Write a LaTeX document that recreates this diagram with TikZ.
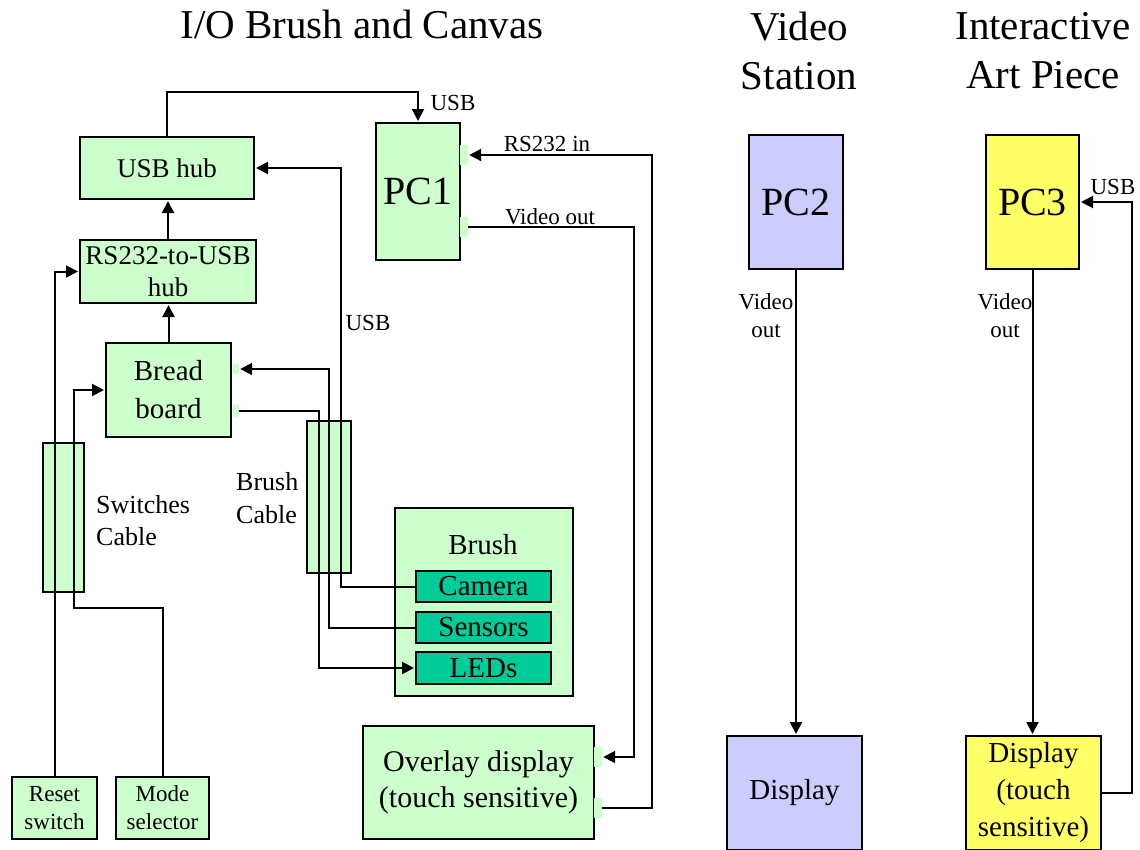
\documentclass[tikz,border=0pt]{standalone}
\usepackage{fontspec}
\setmainfont{Liberation Serif}
\usetikzlibrary{arrows.meta,calc}
\definecolor{lgreen}{HTML}{CCFFCC}
\definecolor{teal}{HTML}{00CC99}
\definecolor{lav}{HTML}{CCCCFF}
\definecolor{yel}{HTML}{FFFF66}
\newcommand{\fs}[2]{\fontsize{#1}{#2}\selectfont}
\tikzset{
  box/.style={draw, line width=2pt, fill=lgreen, inner sep=0pt, align=center, font=\fs{27}{36}},
  port/.style={fill=lgreen, draw=none, inner sep=0pt},
  cablebox/.style={draw, line width=2pt, fill=lgreen, inner sep=0pt},
  lbl/.style={inner sep=0pt, align=center, font=\fs{23}{28}},
  ttl/.style={inner sep=0pt, align=center, font=\fs{41}{49}},
  arr/.style={line width=2pt, -{Triangle[length=12pt,width=12pt]}, shorten >=1pt},
  wire/.style={line width=2pt}
}
\begin{document}
\begin{tikzpicture}[x=1pt,y=-1pt]
\useasboundingbox (0,0) rectangle (1140,849);
\clip (0,0) rectangle (1140,849);
\fill[white] (0,0) rectangle (1140,849);
% titles
\node[ttl] (t1) at (362,24) {I/O Brush and Canvas};
\node[ttl] (t2) at (799,51) {Video\\Station};
\node[ttl] (t3) at (1043,51) {Interactive\\Art Piece};
% boxes
\node[box, minimum width=174, minimum height=62] (usbhub) at (167,168) {USB hub};
\node[box, minimum width=176, minimum height=63, font=\fs{27}{32}] (rs232) at (168,271.5) {RS232-to-USB\\hub};
\node[box, minimum width=125, minimum height=94, font=\fs{29}{38}] (bread) at (168.5,390) {Bread\\board};
\node[box, minimum width=84, minimum height=137, font=\fs{40}{48}] (pc1) at (418,191.5) {PC1};
\node[port, minimum width=8, minimum height=20] (pc1p1) at (464,155) {};
\node[port, minimum width=8, minimum height=20] (pc1p2) at (464,227) {};
\node[port, minimum width=6, minimum height=10] (bp1) at (236,369) {};
\node[port, minimum width=6, minimum height=12] (bp2) at (236,411) {};
\node[cablebox, minimum width=41, minimum height=149] (swcable) at (63.5,517.5) {};
\node[cablebox, minimum width=44, minimum height=152] (brcable) at (329,497) {};
\node[box, minimum width=85, minimum height=62, font=\fs{23}{28}] (reset) at (54.5,808) {Reset\\switch};
\node[box, minimum width=93, minimum height=62, font=\fs{23}{28}] (mode) at (162.5,808) {Mode\\selector};
\node[box, minimum width=178, minimum height=188] (brush) at (484,602) {};
\node[inner sep=0pt, font=\fs{29}{36}] (brushlbl) at (483,545) {Brush};
\node[box, fill=teal, minimum width=135, minimum height=31, font=\fs{29}{36}] (camera) at (483.5,586.5) {Camera};
\node[box, fill=teal, minimum width=135, minimum height=31, font=\fs{29}{36}] (sensors) at (483.5,627.5) {Sensors};
\node[box, fill=teal, minimum width=135, minimum height=32, font=\fs{29}{36}] (leds) at (483.5,668) {LEDs};
\node[box, minimum width=231, minimum height=113, font=\fs{30}{36}] (overlay) at (478.5,782.5) {Overlay display\\(touch sensitive)};
\node[port, minimum width=8, minimum height=20] (op1) at (598,757) {};
\node[port, minimum width=8, minimum height=20] (op2) at (598,808) {};
\node[box, fill=lav, minimum width=94, minimum height=134, font=\fs{40}{48}] (pc2) at (796,202) {PC2};
\node[box, fill=yel, minimum width=93, minimum height=134, font=\fs{40}{48}] (pc3) at (1032.5,202) {PC3};
\node[box, fill=lav, minimum width=135, minimum height=114, font=\fs{29}{37}] (disp2) at (794.5,793) {Display};
\node[box, fill=yel, minimum width=135, minimum height=114, font=\fs{29}{37}] (disp3) at (1033.5,793) {Display\\(touch\\sensitive)};
% labels
\node[lbl] (lusb1) at (453,103) {USB};
\node[lbl] (lrs) at (547,144) {RS232 in};
\node[lbl] (lvid) at (550,217) {Video out};
\node[lbl] (lusb2) at (368,323) {USB};
\node[lbl] (lusb3) at (1113,187) {USB};
\node[lbl] (lv2) at (766,316) {Video\\out};
\node[lbl] (lv3) at (1005,316) {Video\\out};
\node[inner sep=0pt, align=left, anchor=west, font=\fs{26}{32}] (lsw) at (96,521) {Switches\\Cable};
\node[inner sep=0pt, align=left, anchor=west, font=\fs{26}{33}] (lbr) at (236,498.5) {Brush\\Cable};
% coordinates
\coordinate (c1) at (167,92);
\coordinate (m1) at (162.5,608);
\coordinate (m2) at (74,608);
\coordinate (cu) at (341,168);
\coordinate (sb) at (329,369);
\coordinate (lb) at (319,411);
\coordinate (r1) at (652,808);
\coordinate (v1) at (634,227);
\coordinate (y1) at (1132,793);
% connectors
\draw[arr] (usbhub.north) -- (c1) -| (pc1.north);
\draw[arr] (rs232.north) -- (rs232.north |- usbhub.south);
\draw[arr] (bread.north) -- (bread.north |- rs232.south);
\draw[arr] (reset.north) |- (rs232.west);
\draw[arr] (mode.north) -- (m1) -- (m2) |- (bread.west);
\draw[arr] (camera.west) -| (cu) -- (usbhub.east);
\draw[arr] (sensors.west) -| (sb) -- (bp1.east);
\draw[arr] (bp2.east) -- (lb) |- (leds.west);
\draw[arr] (op2.east) -- (r1) |- (pc1p1.east);
\draw[arr] (pc1p2.east) -- (v1) |- (op1.east);
\draw[arr] (pc2.south) -- (pc2.south |- disp2.north);
\draw[arr] (pc3.south) -- (pc3.south |- disp3.north);
\draw[arr] (disp3.east) -- (y1) |- (pc3.east);
\end{tikzpicture}
\end{document}
